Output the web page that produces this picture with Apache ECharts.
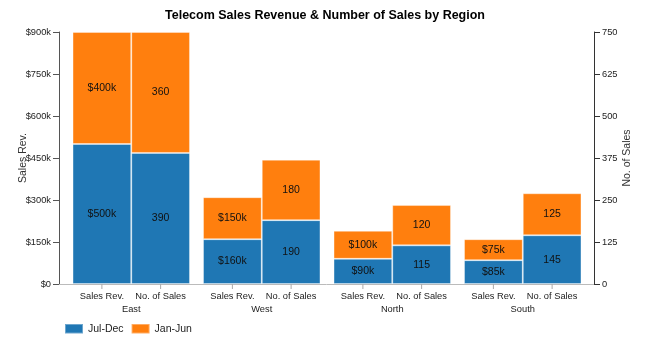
<!DOCTYPE html>
<html>
<head>
<meta charset="utf-8">
<script src="https://cdn.jsdelivr.net/npm/echarts@6/dist/echarts.min.js"></script>
<style>
  html, body { margin: 0; padding: 0; background: #fff; }
  #chart { width: 650px; height: 347px; }
</style>
</head>
<body>
<div id="chart"></div>
<script>
// Regions and the two measures shown side by side in each region
const regions = ['East', 'West', 'North', 'South'];
const measureLabels = ['Sales Rev.', 'No. of Sales'];
const periods = ['Jul-Dec', 'Jan-Jun'];

// Sales revenue, in thousands of dollars
const revJulDec = [500, 160, 90, 85];
const revJanJun = [400, 150, 100, 75];

// Number of sales
const countJulDec = [390, 190, 115, 145];
const countJanJun = [360, 180, 120, 125];

// Axis ticks
const revTicks = { min: 0, max: 900, interval: 150 };
const countTicks = { min: 0, max: 750, interval: 125 };

const FONT = 'Liberation Sans, Arial, sans-serif';
const BLUE = '#1f77b4';
const ORANGE = '#ff7f0e';

// Plot band used by the bars; y axes are pushed slightly outside it
const plotLeft = 66, plotRight = 62;
const chartWidth = 650;
const catGap = 0.10;
const slot = (chartWidth - plotLeft - plotRight) / regions.length;
const barW = slot * (1 - catGap) / 2;

const revFmt = v => v === 0 ? '$0' : '$' + v + 'k';

function barSeries(name, data, stack, yIdx, fmt, color) {
  return {
    name: name,
    type: 'bar',
    stack: stack,
    xAxisIndex: 0,
    yAxisIndex: yIdx,
    data: data,
    barGap: '0%',
    barCategoryGap: (catGap * 100) + '%',
    itemStyle: { color: color, borderColor: 'rgba(255,255,255,0.35)', borderWidth: 1 },
    label: {
      show: true,
      position: 'inside',
      fontFamily: FONT,
      fontSize: 10.5,
      color: '#111',
      formatter: p => fmt(p.value)
    }
  };
}

const chart = echarts.init(document.getElementById('chart'), null, { renderer: 'canvas' });

chart.setOption({
  animation: false,
  backgroundColor: '#fff',
  title: {
    text: 'Telecom Sales Revenue & Number of Sales by Region',
    left: 'center',
    top: 4,
    textStyle: { fontFamily: FONT, fontSize: 12.5, fontWeight: 'bold', color: '#000' }
  },
  legend: {
    data: periods,
    left: 59,
    top: 318,
    icon: 'rect',
    itemWidth: 18,
    itemHeight: 9.5,
    itemGap: 7,
    textStyle: { fontFamily: FONT, fontSize: 10.5, color: '#222' }
  },
  grid: [
    { left: plotLeft, right: plotRight, top: 32, bottom: 63, containLabel: false, outerBoundsMode: 'none' },
    { left: 59, right: 56, top: 32, bottom: 63, containLabel: false, outerBoundsMode: 'none' }
  ],
  xAxis: [
    {
      type: 'category',
      gridIndex: 0,
      data: regions,
      axisLine: { show: false },
      axisTick: { show: false },
      axisLabel: {
        interval: 0,
        margin: 0,
        fontFamily: FONT,
        fontSize: 9.3,
        color: '#222',
        formatter: name =>
          '{sp1| }{tk| }{sp2| }{tk| }{sp1| }\n' +
          measureLabels.map(m => '{lb|' + m + '}').join('') + '\n' +
          '{rg|' + name + '}',
        rich: {
          sp1: { width: barW / 2 - 0.5, height: 5, lineHeight: 5, fontSize: 1 },
          sp2: { width: barW - 1, height: 5, lineHeight: 5, fontSize: 1 },
          tk: { width: 1, height: 5, lineHeight: 5, fontSize: 1, backgroundColor: '#aaa' },
          lb: { width: barW, align: 'center', lineHeight: 15, fontFamily: FONT, fontSize: 9.3, color: '#222' },
          rg: { lineHeight: 11, fontFamily: FONT, fontSize: 9.3, color: '#222' }
        }
      }
    },
    {
      type: 'category',
      gridIndex: 1,
      data: regions,
      axisLine: { show: true, lineStyle: { color: '#bbb', width: 1 } },
      axisTick: { show: false },
      axisLabel: { show: false }
    }
  ],
  yAxis: [
    {
      type: 'value',
      gridIndex: 0,
      position: 'left',
      offset: plotLeft - 59,
      min: revTicks.min,
      max: revTicks.max,
      interval: revTicks.interval,
      name: 'Sales Rev.',
      nameLocation: 'middle',
      nameGap: 30,
      nameMoveOverlap: false,
      nameTextStyle: { fontFamily: FONT, fontSize: 10.5, color: '#333' },
      axisLine: { show: true, lineStyle: { color: '#555' } },
      axisTick: { show: true, inside: false, length: 6, lineStyle: { color: '#555' } },
      axisLabel: { margin: 8, fontFamily: FONT, fontSize: 9.3, color: '#222', formatter: revFmt },
      splitLine: { show: false }
    },
    {
      type: 'value',
      gridIndex: 0,
      position: 'right',
      offset: 594 - (chartWidth - plotRight),
      min: countTicks.min,
      max: countTicks.max,
      interval: countTicks.interval,
      name: 'No. of Sales',
      nameLocation: 'middle',
      nameGap: 28,
      nameMoveOverlap: false,
      nameTextStyle: { fontFamily: FONT, fontSize: 10.5, color: '#333' },
      axisLine: { show: true, lineStyle: { color: '#333' } },
      axisTick: { show: true, inside: false, length: 6, lineStyle: { color: '#333' } },
      axisLabel: { margin: 8, fontFamily: FONT, fontSize: 9.3, color: '#222' },
      splitLine: { show: false }
    },
    {
      type: 'value',
      gridIndex: 1,
      show: false
    }
  ],
  series: [
    barSeries(periods[0], revJulDec, 'rev', 0, revFmt, BLUE),
    barSeries(periods[1], revJanJun, 'rev', 0, revFmt, ORANGE),
    barSeries(periods[0], countJulDec, 'count', 1, v => String(v), BLUE),
    barSeries(periods[1], countJanJun, 'count', 1, v => String(v), ORANGE)
  ]
});
</script>
</body>
</html>
